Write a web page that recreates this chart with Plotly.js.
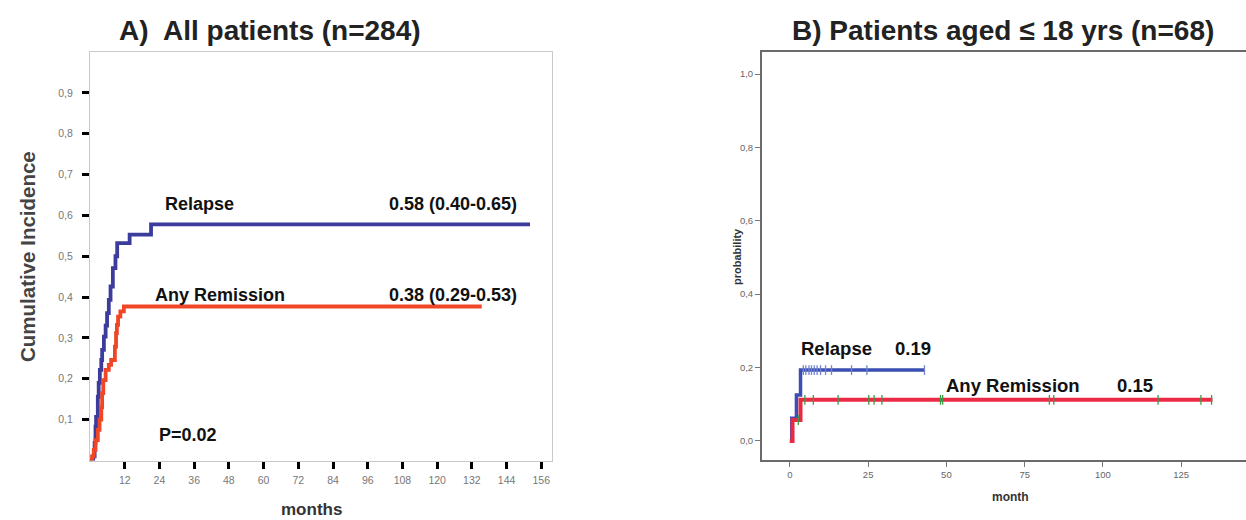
<!DOCTYPE html>
<html>
<head>
<meta charset="utf-8">
<script src="https://cdn.plot.ly/plotly-3.0.1.min.js"></script>
<style>html,body{margin:0;padding:0;background:#fff;}#chart{width:1246px;height:520px;}</style>
</head>
<body>
<div id="chart"></div>
<script>
// Panel A: all patients (months, cumulative incidence)
const relapseA_t = [0, 1.1, 1.6, 1.9, 2.1, 2.7, 3.0, 3.4, 3.9, 4.2, 4.8, 5.4, 5.9, 6.5, 7.1, 7.9, 8.8, 9.4, 13.7, 21.1, 152.1];
const relapseA_v = [0, 0.01, 0.043, 0.083, 0.107, 0.156, 0.19, 0.222, 0.246, 0.271, 0.303, 0.33, 0.361, 0.393, 0.426, 0.471, 0.5, 0.532, 0.553, 0.578, 0.578];
const remissionA_t = [0, 0.7, 1.3, 1.9, 2.7, 3.3, 3.9, 4.2, 4.6, 5.4, 6.5, 7.3, 8.6, 9.0, 9.3, 9.7, 10.5, 11.7, 135.4];
const remissionA_v = [0, 0.01, 0.026, 0.05, 0.075, 0.1, 0.13, 0.165, 0.197, 0.222, 0.234, 0.246, 0.279, 0.312, 0.332, 0.352, 0.365, 0.377, 0.377];
const tickA_x = [12, 24, 36, 48, 60, 72, 84, 96, 108, 120, 132, 144, 156];
const tickA_y = [0.1, 0.2, 0.3, 0.4, 0.5, 0.6, 0.7, 0.8, 0.9];
const tickA_ytext = ["0,1", "0,2", "0,3", "0,4", "0,5", "0,6", "0,7", "0,8", "0,9"];

// Panel B: patients aged <= 18 yrs (month, probability)
const relapseB_t = [0, 0.6, 2.1, 3.4, 43];
const relapseB_v = [0, 0.062, 0.125, 0.193, 0.193];
const relapseB_cens = [4.3, 5.1, 6.1, 6.9, 7.8, 8.7, 9.8, 11.4, 13.3, 19.7, 24.6, 43];
const remissionB_t = [0, 0.85, 3.4, 135];
const remissionB_v = [0, 0.057, 0.112, 0.112];
const remissionB_cens = [2.7, 4.8, 7.5, 15.4, 25.2, 26.9, 29.4, 48.1, 48.8, 82.9, 84.3, 117.6, 131.3, 134.7];
const tickB_x = [0, 25, 50, 75, 100, 125];
const tickB_y = [0, 0.2, 0.4, 0.6, 0.8, 1.0];
const tickB_ytext = ["0,0", "0,2", "0,4", "0,6", "0,8", "1,0"];

function stepAt(ts, vs, t) {
  let v = vs[0];
  for (let i = 0; i < ts.length; i++) { if (ts[i] <= t) v = vs[i]; }
  return v;
}

const FONT = 'Liberation Sans, Arial, Helvetica, sans-serif';
const W = 1246, H = 520;
const px = x => x / W, py = y => 1 - y / H;

const traces = [
  {x: relapseA_t, y: relapseA_v, xaxis: 'x', yaxis: 'y', mode: 'lines', line: {shape: 'hv', color: '#3b3c9c', width: 3.8}, hoverinfo: 'skip'},
  {x: remissionA_t, y: remissionA_v, xaxis: 'x', yaxis: 'y', mode: 'lines', line: {shape: 'hv', color: '#ef4626', width: 3.8}, hoverinfo: 'skip'},
  {x: relapseB_t, y: relapseB_v, xaxis: 'x2', yaxis: 'y2', mode: 'lines', line: {shape: 'hv', color: '#3b4fb2', width: 3.5}, hoverinfo: 'skip'},
  {x: relapseB_cens, y: relapseB_cens.map(t => stepAt(relapseB_t, relapseB_v, t)), xaxis: 'x2', yaxis: 'y2', mode: 'markers',
   marker: {symbol: 'line-ns-open', size: 7, color: '#7183d2', line: {color: '#7183d2', width: 1.3}}, hoverinfo: 'skip'},
  {x: remissionB_t, y: remissionB_v, xaxis: 'x2', yaxis: 'y2', mode: 'lines', line: {shape: 'hv', color: '#ea2a45', width: 4}, hoverinfo: 'skip'},
  {x: remissionB_cens, y: remissionB_cens.map(t => stepAt(remissionB_t, remissionB_v, t)), xaxis: 'x2', yaxis: 'y2', mode: 'markers',
   marker: {symbol: 'line-ns-open', size: 7, color: '#3f9a45', line: {color: '#3f9a45', width: 1.3}}, hoverinfo: 'skip'}
];

const bold = (s, size, color) => ({text: '<b>' + s + '</b>', font: {family: FONT, size: size, color: color || '#111'}, showarrow: false});

const annotations = [
  Object.assign(bold('A)  All patients (n=284)', 28, '#222'), {xref: 'paper', yref: 'paper', x: px(270), y: py(30), xanchor: 'center', yanchor: 'middle'}),
  Object.assign(bold('B) Patients aged ≤ 18 yrs (n=68)', 28, '#222'), {xref: 'paper', yref: 'paper', x: px(1003), y: py(30), xanchor: 'center', yanchor: 'middle'}),
  Object.assign(bold('Cumulative Incidence', 20.5, '#444'), {xref: 'paper', yref: 'paper', x: px(27), y: py(257), xanchor: 'center', yanchor: 'middle', textangle: -90}),
  Object.assign(bold('months', 17, '#333'), {xref: 'paper', yref: 'paper', x: px(311), y: py(509), xanchor: 'center', yanchor: 'middle'}),
  Object.assign(bold('probability', 11, '#333'), {xref: 'paper', yref: 'paper', x: px(737), y: py(257), xanchor: 'center', yanchor: 'middle', textangle: -90}),
  Object.assign(bold('month', 12, '#333'), {xref: 'paper', yref: 'paper', x: px(1010), y: py(497), xanchor: 'center', yanchor: 'middle'}),
  Object.assign(bold('Relapse', 18), {xref: 'x', yref: 'y', x: 25.4, y: 0.629, xanchor: 'left', yanchor: 'middle'}),
  Object.assign(bold('0.58 (0.40-0.65)', 18), {xref: 'x', yref: 'y', x: 148.3, y: 0.629, xanchor: 'right', yanchor: 'middle'}),
  Object.assign(bold('Any Remission', 18), {xref: 'x', yref: 'y', x: 21.9, y: 0.406, xanchor: 'left', yanchor: 'middle'}),
  Object.assign(bold('0.38 (0.29-0.53)', 18), {xref: 'x', yref: 'y', x: 148.3, y: 0.406, xanchor: 'right', yanchor: 'middle'}),
  Object.assign(bold('P=0.02', 18), {xref: 'x', yref: 'y', x: 23, y: 0.0625, xanchor: 'left', yanchor: 'middle'}),
  Object.assign(bold('Relapse', 18.5), {xref: 'x2', yref: 'y2', x: 2.9, y: 0.251, xanchor: 'left', yanchor: 'middle'}),
  Object.assign(bold('0.19', 18.5), {xref: 'x2', yref: 'y2', x: 32.9, y: 0.251, xanchor: 'left', yanchor: 'middle'}),
  Object.assign(bold('Any Remission', 18.5), {xref: 'x2', yref: 'y2', x: 49.2, y: 0.15, xanchor: 'left', yanchor: 'middle'}),
  Object.assign(bold('0.15', 18.5), {xref: 'x2', yref: 'y2', x: 103.8, y: 0.15, xanchor: 'left', yanchor: 'middle'})
];

const layout = {
  width: W, height: H,
  margin: {l: 0, r: 0, t: 0, b: 0},
  paper_bgcolor: '#fff', plot_bgcolor: '#fff',
  showlegend: false,
  font: {family: FONT},
  xaxis: {
    domain: [px(90), px(552)], range: [0, 159.7], anchor: 'y',
    showgrid: false, zeroline: false, showline: true, linecolor: '#c9c9c9', linewidth: 1, mirror: true,
    tickmode: 'array', tickvals: tickA_x, ticktext: tickA_x.map(String),
    ticks: 'outside', ticklen: 7, tickwidth: 3, tickcolor: '#000', ticklabelstandoff: 3,
    tickfont: {family: FONT, size: 10.5, color: '#777'}
  },
  yaxis: {
    domain: [py(460.5), py(52)], range: [0, 1.0], anchor: 'x',
    showgrid: false, zeroline: false, showline: true, linecolor: '#c9c9c9', linewidth: 1, mirror: true,
    tickmode: 'array', tickvals: tickA_y, ticktext: tickA_ytext,
    ticks: 'outside', ticklen: 7, tickwidth: 3, tickcolor: '#000', ticklabelstandoff: 7,
    tickfont: {family: FONT, size: 10.5, color: '#777'}
  },
  xaxis2: {
    domain: [px(762), 1], range: [-8.9, 145.7], anchor: 'y2',
    showgrid: false, zeroline: false, showline: true, linecolor: '#6a6a6a', linewidth: 2, mirror: true,
    tickmode: 'array', tickvals: tickB_x, ticktext: tickB_x.map(String),
    ticks: 'outside', ticklen: 5, tickwidth: 1, tickcolor: '#777',
    tickfont: {family: FONT, size: 9.5, color: '#666'}
  },
  yaxis2: {
    domain: [py(460), py(52)], range: [-0.052, 1.06], anchor: 'x2',
    showgrid: false, zeroline: false, showline: true, linecolor: '#6a6a6a', linewidth: 2,
    tickmode: 'array', tickvals: tickB_y, ticktext: tickB_ytext,
    ticks: 'outside', ticklen: 5, tickwidth: 1, tickcolor: '#777',
    tickfont: {family: FONT, size: 9.5, color: '#666'}
  },
  annotations: annotations
};

Plotly.newPlot('chart', traces, layout, {displayModeBar: false, staticPlot: true});
</script>
</body>
</html>
